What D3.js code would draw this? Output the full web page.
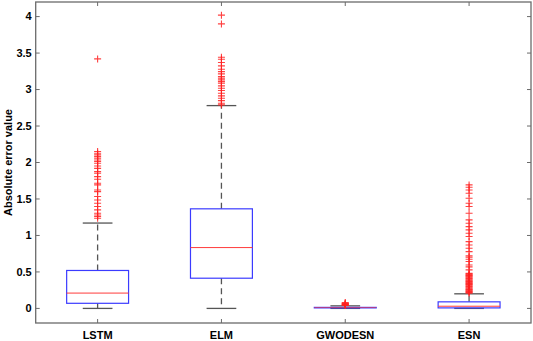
<!DOCTYPE html>
<html><head><meta charset="utf-8">
<script src="https://cdn.jsdelivr.net/npm/d3@7"></script>
<style>html,body{margin:0;padding:0;background:#fff;}svg{display:block;}</style>
</head><body>
<svg id="c" width="533" height="341"></svg>
<script>
const categories = ["LSTM", "ELM", "GWODESN", "ESN"];
const q1 = [0.07, 0.414, 0.009, 0.007];
const medians = [0.21, 0.834, 0.012, 0.03];
const q3 = [0.52, 1.365, 0.014, 0.09];
const whiskerLow = [0.0, 0.0, 0.0, 0.0];
const whiskerHigh = [1.17, 2.78, 0.035, 0.2];
const outliersLSTM = [3.42, 2.15, 2.127, 2.104, 2.081, 2.058, 2.035, 2.013, 1.99, 1.953, 1.92, 1.875, 1.853, 1.807, 1.771, 1.716, 1.693, 1.624, 1.601, 1.533, 1.487, 1.442, 1.396, 1.35, 1.305, 1.28, 1.259, 1.236];
const outliersELM = [4.02, 3.9, 3.443, 3.416, 3.37, 3.324, 3.279, 3.246, 3.215, 3.178, 3.156, 3.133, 3.11, 3.088, 3.05, 3.018, 2.986, 2.95, 2.913, 2.881, 2.848, 2.813, 2.79];
const outliersGWODESN = [0.04, 0.045, 0.05, 0.055, 0.06, 0.065, 0.07, 0.08];
const outliersESN = [1.693, 1.661, 1.624, 1.579, 1.51, 1.442, 1.396, 1.305, 1.213, 1.168, 1.121, 1.076, 1.031, 0.985, 0.916, 0.87, 0.825, 0.779, 0.72, 0.702, 0.674, 0.642, 0.596, 0.57, 0.528, 0.48, 0.47, 0.46, 0.45, 0.44, 0.43, 0.42, 0.41, 0.40, 0.39, 0.38, 0.37, 0.36, 0.35, 0.34, 0.33, 0.32, 0.31, 0.30, 0.29, 0.28, 0.27, 0.26, 0.25, 0.24, 0.23, 0.22, 0.21];
const outliers = [outliersLSTM, outliersELM, outliersGWODESN, outliersESN];
const yTicks = [0, 0.5, 1, 1.5, 2, 2.5, 3, 3.5, 4];
const yTickLabels = ["0", "0.5", "1", "1.5", "2", "2.5", "3", "3.5", "4"];
const yLabel = "Absolute error value";

const svg = d3.select("#c");
const L = 35.7, R = 531, T = 2, B = 323;
const x = d3.scaleLinear().domain([0.5, 4.5]).range([L, R]);
const y = d3.scaleLinear().domain([-0.2, 4.2]).range([B, T]);
const axisCol = "#6b6b6b";
const font = "'Liberation Sans', Arial, sans-serif";

const boxHalf = 0.25, capHalf = 0.12;
categories.forEach((c, i) => {
  const cx = x(i + 1);
  const g = svg.append("g");
  g.append("line").attr("x1", cx).attr("x2", cx).attr("y1", y(q3[i])).attr("y2", y(whiskerHigh[i]))
    .attr("stroke", "#555").attr("stroke-width", 1.3).attr("stroke-dasharray", "6,4");
  g.append("line").attr("x1", cx).attr("x2", cx).attr("y1", y(q1[i])).attr("y2", y(whiskerLow[i]))
    .attr("stroke", "#555").attr("stroke-width", 1.3).attr("stroke-dasharray", "6,4");
  [whiskerHigh[i], whiskerLow[i]].forEach(v => {
    g.append("line").attr("x1", x(i + 1 - capHalf)).attr("x2", x(i + 1 + capHalf))
      .attr("y1", y(v)).attr("y2", y(v)).attr("stroke", "#555").attr("stroke-width", 1.3);
  });
  g.append("rect").attr("x", x(i + 1 - boxHalf)).attr("width", x(i + 1 + boxHalf) - x(i + 1 - boxHalf))
    .attr("y", y(q3[i])).attr("height", Math.max(0.5, y(q1[i]) - y(q3[i])))
    .attr("fill", "none").attr("stroke", "#3b3bff").attr("stroke-width", 1.2);
  g.append("line").attr("x1", x(i + 1 - boxHalf)).attr("x2", x(i + 1 + boxHalf))
    .attr("y1", y(medians[i])).attr("y2", y(medians[i])).attr("stroke", "#ff3b3b").attr("stroke-width", 1)
    .attr("opacity", i === 2 ? 0.6 : 1);
  const ms = 3.5;
  outliers[i].forEach(v => {
    const py = y(v);
    g.append("path").attr("d", `M${cx - ms},${py}H${cx + ms}M${cx},${py - ms}V${py + ms}`)
      .attr("stroke", "#ff2020").attr("stroke-width", 1.1).attr("fill", "none").attr("opacity", 0.85);
  });
});

svg.append("rect").attr("x", L).attr("y", T).attr("width", R - L).attr("height", B - T)
  .attr("fill", "none").attr("stroke", axisCol).attr("stroke-width", 1.3);

const tl = 4;
yTicks.forEach((t, k) => {
  const py = y(t);
  svg.append("line").attr("x1", L).attr("x2", L + tl).attr("y1", py).attr("y2", py).attr("stroke", axisCol);
  svg.append("line").attr("x1", R - tl).attr("x2", R).attr("y1", py).attr("y2", py).attr("stroke", axisCol);
  svg.append("text").attr("x", L - 4).attr("y", py).attr("dy", "0.35em").attr("text-anchor", "end")
    .attr("font-family", font).attr("font-weight", "bold").attr("font-size", 11).attr("fill", "#000")
    .text(yTickLabels[k]);
});
categories.forEach((c, i) => {
  const px = x(i + 1);
  svg.append("line").attr("x1", px).attr("x2", px).attr("y1", B).attr("y2", B - tl).attr("stroke", axisCol);
  svg.append("line").attr("x1", px).attr("x2", px).attr("y1", T).attr("y2", T + tl).attr("stroke", axisCol);
  svg.append("text").attr("x", px).attr("y", 339).attr("text-anchor", "middle")
    .attr("font-family", font).attr("font-weight", "bold").attr("font-size", 11).attr("fill", "#000")
    .text(c);
});
svg.append("text").attr("transform", `translate(12,${(T + B) / 2}) rotate(-90)`)
  .attr("text-anchor", "middle").attr("font-family", font).attr("font-weight", "bold")
  .attr("font-size", 11).attr("fill", "#000").text(yLabel);
</script>
</body></html>
